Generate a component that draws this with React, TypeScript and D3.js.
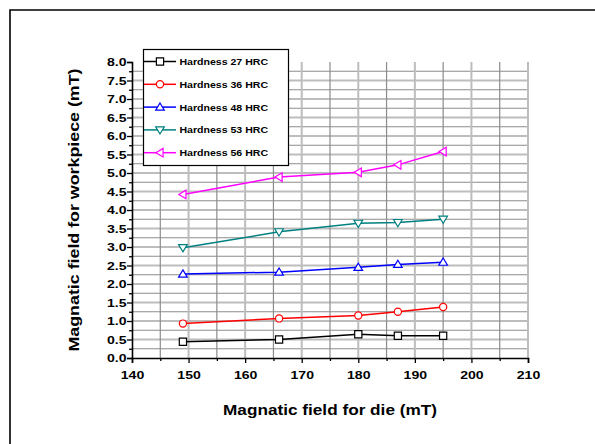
import React, { useEffect, useRef } from 'react';
import * as d3 from 'd3';

const dieField = [149, 166, 180, 187, 195];
const hrc27 = [0.44, 0.5, 0.64, 0.6, 0.6];
const hrc36 = [0.93, 1.07, 1.15, 1.25, 1.38];
const hrc48 = [2.27, 2.32, 2.45, 2.53, 2.59];
const hrc53 = [2.98, 3.41, 3.64, 3.66, 3.75];
const hrc56 = [4.42, 4.89, 5.02, 5.22, 5.58];

const seriesNames = ['Hardness 27 HRC', 'Hardness 36 HRC', 'Hardness 48 HRC', 'Hardness 53 HRC', 'Hardness 56 HRC'];
const seriesColors = ['#000000', '#ff0000', '#0000ff', '#008080', '#ff00ff'];
const seriesShapes = ['square', 'circle', 'up', 'down', 'left'];

const xTicks = [140, 150, 160, 170, 180, 190, 200, 210];
const yTicks = [0, 0.5, 1, 1.5, 2, 2.5, 3, 3.5, 4, 4.5, 5, 5.5, 6, 6.5, 7, 7.5, 8];

const W = 595;
const H = 444;
const font = '"Liberation Sans", Arial, sans-serif';

function markerPath(shape: string, r: number) {
  switch (shape) {
    case 'square':
      return `M${-r},${-r}H${r}V${r}H${-r}Z`;
    case 'circle':
      return d3.symbol(d3.symbolCircle, Math.PI * r * r)() as string;
    case 'up':
      return `M0,${-r * 1.15}L${r * 1.2},${r * 0.85}L${-r * 1.2},${r * 0.85}Z`;
    case 'down':
      return `M0,${r * 1.15}L${r * 1.2},${-r * 0.85}L${-r * 1.2},${-r * 0.85}Z`;
    default:
      return `M${-r * 1.15},0L${r * 0.85},${-r * 1.2}L${r * 0.85},${r * 1.2}Z`;
  }
}

export default function App() {
  const ref = useRef<SVGSVGElement>(null);

  useEffect(() => {
    const svg = d3.select(ref.current);
    svg.selectAll('*').remove();

    const x = d3.scaleLinear().domain([140, 210]).range([132, 528]);
    const y = d3.scaleLinear().domain([0, 8]).range([358, 62]);

    // outer frame (only left and top edges are in view)
    svg.append('path')
      .attr('d', `M10,${H}V10H${W}`)
      .attr('fill', 'none').attr('stroke', '#000').attr('stroke-width', 1.6);

    const grid = svg.append('g');
    // horizontal grid every 0.25
    d3.range(1, 32).forEach((i) => {
      const v = i * 0.25;
      const major = i % 2 === 0;
      grid.append('line')
        .attr('x1', x(140)).attr('x2', x(210))
        .attr('y1', y(v)).attr('y2', y(v))
        .attr('stroke', major ? '#bdbdbd' : '#8c8c8c')
        .attr('stroke-width', major ? 2 : 1.2);
    });
    // vertical grid every 5
    d3.range(1, 15).forEach((i) => {
      const v = 140 + i * 5;
      const major = i % 2 === 0;
      grid.append('line')
        .attr('x1', x(v)).attr('x2', x(v))
        .attr('y1', y(0)).attr('y2', y(8))
        .attr('stroke', major ? '#bdbdbd' : '#8c8c8c')
        .attr('stroke-width', major ? 2 : 1.2);
    });

    // axes
    const xAxis = svg.append('g').attr('transform', `translate(0,${y(0)})`)
      .call(d3.axisBottom(x).tickValues(xTicks).tickSize(5).tickFormat(d3.format('d')));
    svg.append('g').attr('transform', `translate(0,${y(0)})`)
      .call(d3.axisBottom(x).tickValues(d3.range(145, 210, 10)).tickSize(3).tickFormat(() => ''))
      .select('.domain').remove();
    const yAxis = svg.append('g').attr('transform', `translate(${x(140)},0)`)
      .call(d3.axisLeft(y).tickValues(yTicks).tickSize(5).tickFormat(d3.format('.1f')));
    svg.append('g').attr('transform', `translate(${x(140)},0)`)
      .call(d3.axisLeft(y).tickValues(d3.range(0.25, 8, 0.5)).tickSize(3).tickFormat(() => ''))
      .select('.domain').remove();

    svg.selectAll('.domain').attr('stroke', '#000').attr('stroke-width', 1.6);
    svg.selectAll('.tick line').attr('stroke', '#000').attr('stroke-width', 1.3);
    xAxis.selectAll('.tick text')
      .attr('font-family', font).attr('font-weight', 'bold').attr('font-size', 11)
      .attr('y', 21.5).attr('dy', 0).attr('transform', 'scale(1.28,1)').attr('fill', '#000');
    yAxis.selectAll('.tick text')
      .attr('font-family', font).attr('font-weight', 'bold').attr('font-size', 11)
      .attr('x', -5.5 / 1.28).attr('dy', '0.36em').attr('transform', 'scale(1.28,1)').attr('fill', '#000');

    // series
    const allSeries = [hrc27, hrc36, hrc48, hrc53, hrc56];
    const line = d3.line<number>().x((_, i) => x(dieField[i])).y((d) => y(d));
    allSeries.forEach((vals, s) => {
      svg.append('path').datum(vals)
        .attr('d', line)
        .attr('fill', 'none').attr('stroke', seriesColors[s]).attr('stroke-width', 1.5);
      svg.selectAll(null).data(vals).enter().append('path')
        .attr('transform', (d, i) => `translate(${x(dieField[i])},${y(d)})`)
        .attr('d', markerPath(seriesShapes[s], 3.6))
        .attr('fill', 'white').attr('stroke', seriesColors[s]).attr('stroke-width', 1.2);
    });

    // legend
    const lg = svg.append('g');
    lg.append('rect')
      .attr('x', 143.5).attr('y', 49.5).attr('width', 145).attr('height', 116)
      .attr('fill', 'white').attr('stroke', '#000').attr('stroke-width', 1.2);
    seriesNames.forEach((name, s) => {
      const ly = 61.5 + s * 22.8;
      lg.append('line')
        .attr('x1', 144).attr('x2', 176).attr('y1', ly).attr('y2', ly)
        .attr('stroke', seriesColors[s]).attr('stroke-width', 1.5);
      lg.append('path')
        .attr('transform', `translate(160,${ly})`)
        .attr('d', markerPath(seriesShapes[s], 3.6))
        .attr('fill', 'white').attr('stroke', seriesColors[s]).attr('stroke-width', 1.2);
      lg.append('text')
        .attr('transform', `translate(179.5,${ly + 3.5}) scale(1.1,1)`)
        .attr('font-family', font).attr('font-weight', 'bold').attr('font-size', 9.6)
        .text(name);
    });

    // axis titles
    svg.append('text')
      .attr('transform', 'translate(330,415) scale(1.11,1)')
      .attr('text-anchor', 'middle')
      .attr('font-family', font).attr('font-weight', 'bold').attr('font-size', 15.5)
      .text('Magnatic field for die (mT)');
    svg.append('text')
      .attr('transform', `translate(79,${(y(0) + y(8)) / 2}) rotate(-90) scale(1.15,1)`)
      .attr('text-anchor', 'middle')
      .attr('font-family', font).attr('font-weight', 'bold').attr('font-size', 15.5)
      .text('Magnatic field for workpiece (mT)');
  }, []);

  return (
    <svg ref={ref} width={W} height={H}
      style={{ position: 'absolute', left: 0, top: 0, background: 'white' }} />
  );
}
